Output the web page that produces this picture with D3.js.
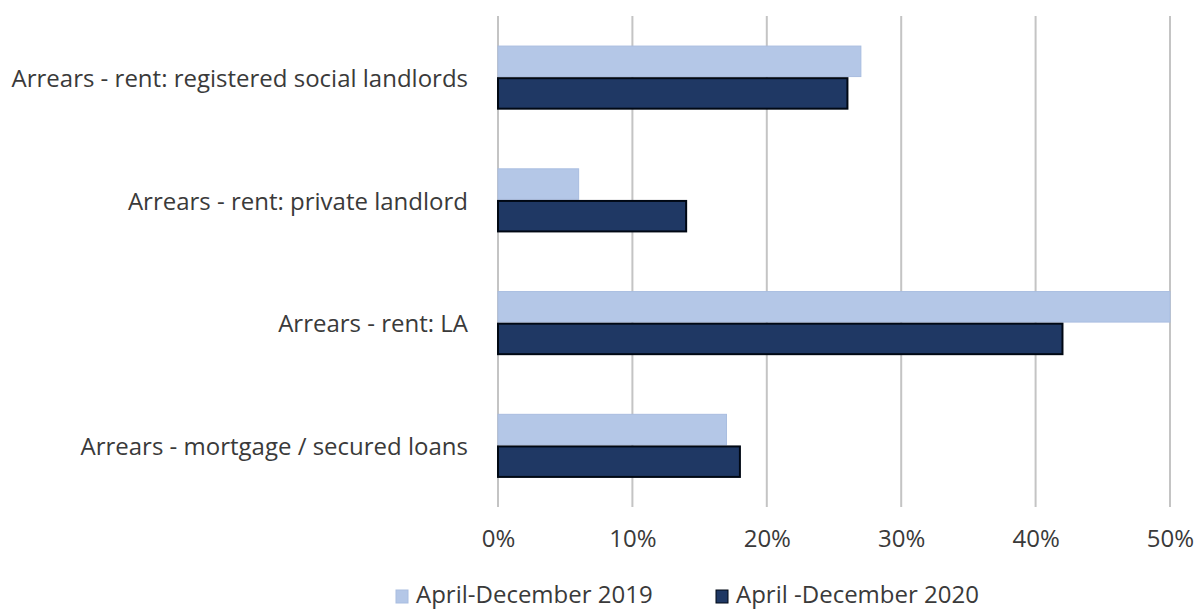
<!DOCTYPE html>
<html><head><meta charset="utf-8">
<script src="https://cdn.jsdelivr.net/npm/d3@7"></script>
<style>body{margin:0;background:#fff}svg{display:block}</style>
</head><body>
<script>
const categories = ["Arrears - rent: registered social landlords","Arrears - rent: private landlord","Arrears - rent: LA","Arrears - mortgage / secured loans"];
const seriesNames = ["April-December 2019","April -December 2020"];
const values2019 = [27, 6, 50, 17];
const values2020 = [26, 14, 42, 18];
const tickValues = [0, 10, 20, 30, 40, 50];

const W = 1196, H = 610;
const m = {left: 498, right: 26, top: 16, bottom: 103};
const svg = d3.select("body").append("svg").attr("width", W).attr("height", H);
const font = "'Open Sans', sans-serif";
const fs = 24;
const x = d3.scaleLinear().domain([0, 50]).range([m.left, W - m.right]);
const y = d3.scaleBand().domain(categories).range([m.top, H - m.bottom]).paddingInner(0.49).paddingOuter(0.245);
const sub = d3.scaleBand().domain(seriesNames).range([0, y.bandwidth()]).paddingInner(0.05);
const colors = ["#b4c7e7", "#1f3864"];

// gridlines
svg.append("g").selectAll("line").data(tickValues).join("line")
  .attr("x1", d => x(d)).attr("x2", d => x(d))
  .attr("y1", m.top).attr("y2", H - m.bottom)
  .attr("stroke", "#c4c4c4").attr("stroke-width", 2);

const data = categories.map((c, i) => ({c, v: [values2019[i], values2020[i]]}));
const g = svg.append("g");
data.forEach(d => {
  d.v.forEach((v, j) => {
    g.append("rect")
      .attr("x", x(0)).attr("y", y(d.c) + sub(seriesNames[j]))
      .attr("width", x(v) - x(0)).attr("height", sub.bandwidth())
      .attr("fill", colors[j])
      .attr("stroke", j === 1 ? "#000814" : "#a9bde0").attr("stroke-width", j === 1 ? 2 : 1);
  });
});

// category labels
svg.append("g").selectAll("text").data(categories).join("text")
  .attr("x", 468).attr("y", d => y(d) + y.bandwidth() / 2)
  .attr("text-anchor", "end").attr("dominant-baseline", "central")
  .attr("font-family", font).attr("font-size", fs).attr("fill", "#3a3a3a")
  .text(d => d);

// x axis
const xAxis = d3.axisBottom(x).tickValues(tickValues).tickFormat(d => d + "%").tickSize(0).tickPadding(0);
const ax = svg.append("g").attr("transform", `translate(0,${H - m.bottom})`).call(xAxis);
ax.select(".domain").remove();
ax.selectAll("text").attr("font-family", font).attr("font-size", fs).attr("fill", "#3a3a3a")
  .attr("y", 40).attr("dy", null);

// legend
const leg = svg.append("g");
const lx = [396, 716];
seriesNames.forEach((s, j) => {
  leg.append("rect").attr("x", lx[j]).attr("y", 590).attr("width", 12).attr("height", 13)
    .attr("fill", colors[j]).attr("stroke", j === 1 ? "#000814" : "#a9bde0");
  leg.append("text").attr("x", lx[j] + 20).attr("y", 603)
    .attr("font-family", font).attr("font-size", fs).attr("fill", "#3a3a3a").text(s);
});
</script>
</body></html>
